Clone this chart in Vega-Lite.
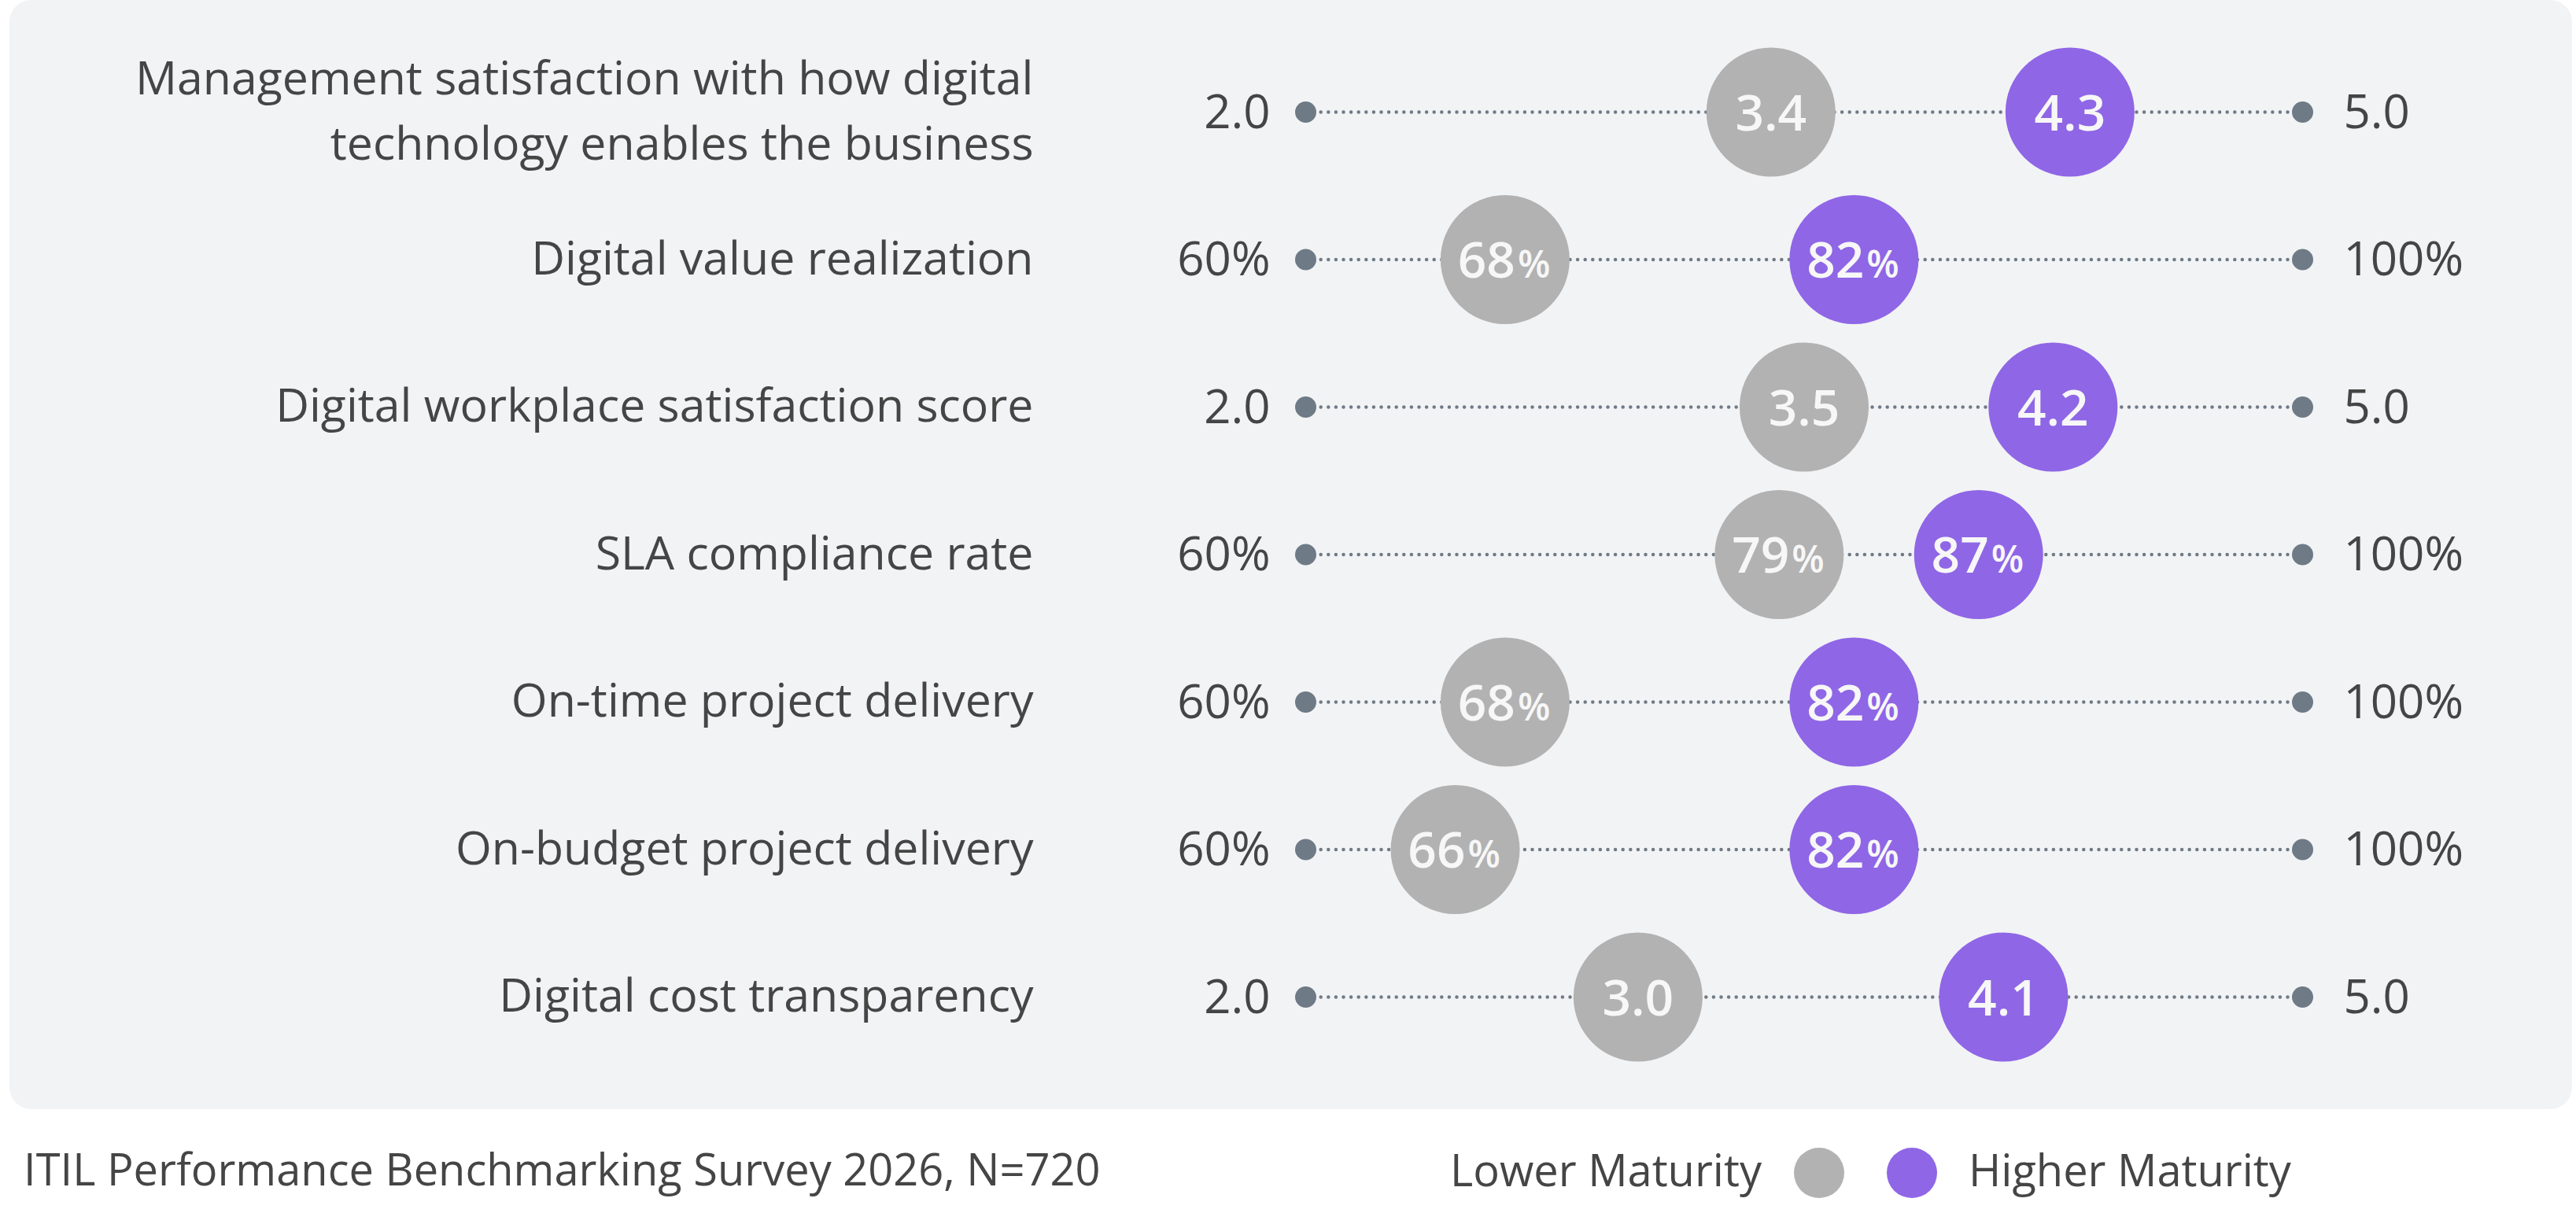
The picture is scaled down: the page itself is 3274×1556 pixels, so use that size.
{
  "$schema": "https://vega.github.io/schema/vega-lite/v6.json",
  "description": "Lower vs higher maturity organisations on seven digital outcome measures.",
  "width": 3257,
  "height": 1410,
  "padding": {"left": 12, "top": 0, "right": 5, "bottom": 0},
  "background": "white",
  "title": {
    "text": "ITIL Performance Benchmarking Survey 2026, N=720",
    "orient": "bottom",
    "anchor": "start",
    "frame": "group",
    "baseline": "alphabetic",
    "offset": -16,
    "dx": 18,
    "fontSize": 56,
    "fontWeight": "normal",
    "color": "#454545"
  },
  "data": {
    "values": [
      {"metric": "Management satisfaction with how digital|technology enables the business", "kind": "score", "min": 2, "max": 5, "lower": 3.4, "higher": 4.3},
      {"metric": "Digital value realization", "kind": "pct", "min": 60, "max": 100, "lower": 68, "higher": 82},
      {"metric": "Digital workplace satisfaction score", "kind": "score", "min": 2, "max": 5, "lower": 3.5, "higher": 4.249},
      {"metric": "SLA compliance rate", "kind": "pct", "min": 60, "max": 100, "lower": 79, "higher": 87},
      {"metric": "On-time project delivery", "kind": "pct", "min": 60, "max": 100, "lower": 68, "higher": 82},
      {"metric": "On-budget project delivery", "kind": "pct", "min": 60, "max": 100, "lower": 66, "higher": 82},
      {"metric": "Digital cost transparency", "kind": "score", "min": 2, "max": 5, "lower": 3.0, "higher": 4.1}
    ]
  },
  "encoding": {
    "y": {
      "field": "metric",
      "type": "nominal",
      "scale": {
        "type": "point",
        "padding": 0.76,
        "domain": [
          "Management satisfaction with how digital|technology enables the business",
          "Digital value realization",
          "Digital workplace satisfaction score",
          "SLA compliance rate",
          "On-time project delivery",
          "On-budget project delivery",
          "Digital cost transparency"
        ]
      },
      "axis": {
        "title": null,
        "domain": false,
        "ticks": false,
        "tickSize": 0,
        "grid": false,
        "offset": -1301,
        "labelPadding": 0,
        "labelLimit": 0,
        "labelFontSize": 59,
        "labelColor": "#454545",
        "labelLineHeight": 83,
        "labelAlign": "right",
        "labelOffset": {"condition": {"test": "indexof(datum.value, '|') >= 0", "value": -41}, "value": 0},
        "labelExpr": "split(datum.label, '|')"
      }
    }
  },
  "layer": [
    {
      "transform": [{"filter": "datum.kind === 'score'"}],
      "layer": [
        {
          "mark": {"type": "rule", "strokeDash": [0, 9.6], "strokeCap": "round", "strokeWidth": 4.5, "color": "#6e7a85"},
          "encoding": {
            "x": {"field": "min", "type": "quantitative", "scale": {"domain": [-1.901, 5.811], "nice": false, "zero": false}, "axis": null},
            "x2": {"field": "max"}
          }
        },
        {
          "transform": [{"fold": ["min", "max"], "as": ["end", "pos"]}],
          "mark": {"type": "circle", "size": 729, "color": "#6e7a85", "opacity": 1},
          "encoding": {
            "x": {"field": "pos", "type": "quantitative", "scale": {"domain": [-1.901, 5.811], "nice": false, "zero": false}, "axis": null}
          }
        },
        {
          "mark": {"type": "text", "align": "right", "baseline": "alphabetic", "dx": -45, "dy": 20, "fontSize": 60, "color": "#454545"},
          "encoding": {
            "x": {"field": "min", "type": "quantitative", "scale": {"domain": [-1.901, 5.811], "nice": false, "zero": false}, "axis": null},
            "text": {"field": "min", "type": "quantitative", "format": ".1f"}
          }
        },
        {
          "mark": {"type": "text", "align": "left", "baseline": "alphabetic", "dx": 52, "dy": 20, "fontSize": 60, "color": "#454545"},
          "encoding": {
            "x": {"field": "max", "type": "quantitative", "scale": {"domain": [-1.901, 5.811], "nice": false, "zero": false}, "axis": null},
            "text": {"field": "max", "type": "quantitative", "format": ".1f"}
          }
        },
        {
          "transform": [{"fold": ["lower", "higher"], "as": ["group", "val"]}],
          "layer": [
            {
              "mark": {"type": "circle", "size": 26896, "opacity": 1},
              "encoding": {
                "x": {"field": "val", "type": "quantitative", "scale": {"domain": [-1.901, 5.811], "nice": false, "zero": false}, "axis": null},
                "color": {
                  "field": "group",
                  "type": "nominal",
                  "scale": {"domain": ["lower", "higher"], "range": ["#b2b2b2", "#8f66e6"]},
                  "legend": {
                    "title": null,
                    "orient": "none",
                    "legendX": 2268,
                    "legendY": 1459,
                    "direction": "horizontal",
                    "symbolType": "circle",
                    "symbolSize": 4096,
                    "symbolStrokeWidth": 0,
                    "labelFontSize": 56,
                    "labelColor": "#454545",
                    "labelLimit": 0,
                    "labelAlign": {"expr": "datum.value === 'lower' ? 'right' : 'left'"},
                    "labelOffset": {"expr": "datum.value === 'lower' ? -105 : 40"},
                    "columnPadding": 54,
                    "labelExpr": "datum.value === 'lower' ? 'Lower Maturity' : 'Higher Maturity'"
                  }
                }
              }
            },
            {
              "mark": {"type": "text", "align": "center", "baseline": "alphabetic", "dy": 23, "fontSize": 64, "fontWeight": 600, "color": "#f7f7f7"},
              "encoding": {
                "x": {"field": "val", "type": "quantitative", "scale": {"domain": [-1.901, 5.811], "nice": false, "zero": false}, "axis": null},
                "text": {"field": "val", "type": "quantitative", "format": ".1f"}
              }
            }
          ]
        }
      ]
    },
    {
      "transform": [{"filter": "datum.kind === 'pct'"}],
      "layer": [
        {
          "mark": {"type": "rule", "strokeDash": [0, 9.6], "strokeCap": "round", "strokeWidth": 4.5, "color": "#6e7a85"},
          "encoding": {
            "x": {"field": "min", "type": "quantitative", "scale": {"domain": [7.988, 110.813], "nice": false, "zero": false}, "axis": null},
            "x2": {"field": "max"}
          }
        },
        {
          "transform": [{"fold": ["min", "max"], "as": ["end", "pos"]}],
          "mark": {"type": "circle", "size": 729, "color": "#6e7a85", "opacity": 1},
          "encoding": {
            "x": {"field": "pos", "type": "quantitative", "scale": {"domain": [7.988, 110.813], "nice": false, "zero": false}, "axis": null}
          }
        },
        {
          "mark": {"type": "text", "align": "right", "baseline": "alphabetic", "dx": -45, "dy": 20, "fontSize": 60, "color": "#454545", "text": {"expr": "datum.min + '%'"}},
          "encoding": {
            "x": {"field": "min", "type": "quantitative", "scale": {"domain": [7.988, 110.813], "nice": false, "zero": false}, "axis": null}
          }
        },
        {
          "mark": {"type": "text", "align": "left", "baseline": "alphabetic", "dx": 52, "dy": 20, "fontSize": 60, "color": "#454545", "text": {"expr": "datum.max + '%'"}},
          "encoding": {
            "x": {"field": "max", "type": "quantitative", "scale": {"domain": [7.988, 110.813], "nice": false, "zero": false}, "axis": null}
          }
        },
        {
          "transform": [{"fold": ["lower", "higher"], "as": ["group", "val"]}],
          "layer": [
            {
              "mark": {"type": "circle", "size": 26896, "opacity": 1},
              "encoding": {
                "x": {"field": "val", "type": "quantitative", "scale": {"domain": [7.988, 110.813], "nice": false, "zero": false}, "axis": null},
                "color": {
                  "field": "group",
                  "type": "nominal",
                  "scale": {"domain": ["lower", "higher"], "range": ["#b2b2b2", "#8f66e6"]},
                  "legend": {
                    "title": null,
                    "orient": "none",
                    "legendX": 2268,
                    "legendY": 1459,
                    "direction": "horizontal",
                    "symbolType": "circle",
                    "symbolSize": 4096,
                    "symbolStrokeWidth": 0,
                    "labelFontSize": 56,
                    "labelColor": "#454545",
                    "labelLimit": 0,
                    "labelAlign": {"expr": "datum.value === 'lower' ? 'right' : 'left'"},
                    "labelOffset": {"expr": "datum.value === 'lower' ? -105 : 40"},
                    "columnPadding": 54,
                    "labelExpr": "datum.value === 'lower' ? 'Lower Maturity' : 'Higher Maturity'"
                  }
                }
              }
            },
            {
              "mark": {"type": "text", "align": "right", "baseline": "alphabetic", "dx": 13, "dy": 23, "fontSize": 64, "fontWeight": 600, "color": "#f7f7f7"},
              "encoding": {
                "x": {"field": "val", "type": "quantitative", "scale": {"domain": [7.988, 110.813], "nice": false, "zero": false}, "axis": null},
                "text": {"field": "val", "type": "quantitative", "format": "d"}
              }
            },
            {
              "mark": {"type": "text", "align": "left", "baseline": "alphabetic", "dx": 16, "dy": 23, "fontSize": 48, "fontWeight": 600, "color": "#f7f7f7", "text": "%"},
              "encoding": {
                "x": {"field": "val", "type": "quantitative", "scale": {"domain": [7.988, 110.813], "nice": false, "zero": false}, "axis": null}
              }
            }
          ]
        }
      ]
    }
  ],
  "resolve": {"scale": {"x": "independent"}},
  "config": {
    "font": "Open Sans",
    "view": {"fill": "#f2f3f5", "stroke": null, "cornerRadius": 28}
  }
}
